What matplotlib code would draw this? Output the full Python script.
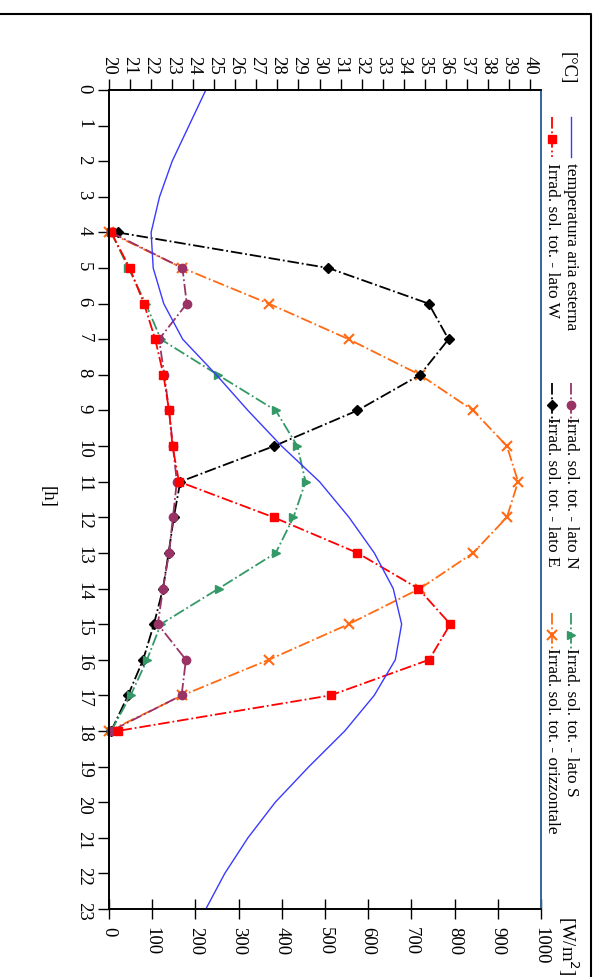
import matplotlib
matplotlib.use('Agg')
import matplotlib.pyplot as plt
from matplotlib.lines import Line2D

plt.rcParams['font.family'] = ['Liberation Serif', 'DejaVu Serif']

# ore del giorno
hours = list(range(24))
# temperatura aria esterna [°C]
temp = [24.6, 23.8, 23.0, 22.4, 22.0, 22.1, 22.6, 23.5, 25.1, 26.6, 28.2, 30.0,
        31.4, 32.6, 33.5, 33.9, 33.6, 32.6, 31.2, 29.5, 27.9, 26.6, 25.5, 24.6]

# irradiazione solare totale [W/m2], ore 4..18
sun_hours = list(range(4, 19))
irr_N = [5, 170, 180, 116, 128, 139, 148, 157, 148, 139, 125, 113, 178, 168, 5]
irr_E = [20, 508, 740, 786, 720, 575, 382, 165, 150, 138, 125, 104, 79, 44, 5]
irr_S = [5, 45, 85, 120, 252, 386, 436, 455, 427, 386, 254, 120, 88, 50, 5]
irr_W = [5, 48, 81, 107, 126, 139, 147, 162, 381, 575, 716, 790, 741, 513, 20]
irr_O = [0, 170, 370, 555, 720, 843, 921, 947, 921, 843, 720, 555, 370, 170, 0]

temp_ticks = list(range(20, 41))
irr_ticks = list(range(0, 1001, 100))

W, H = 594, 977
fig = plt.figure(figsize=(W / 100, H / 100), dpi=100)


def fx(x):
    return x / W


def fy(y):
    return 1 - y / H


ax = fig.add_axes([fx(109), fy(909), (541 - 109) / W, (909 - 90) / H])
ax2 = ax.twiny()

styles = {
    'N': dict(color='#993366', marker='o', ms=6),
    'E': dict(color='black', marker='D', ms=5),
    'S': dict(color='#339966', marker='>', ms=6),
    'W': dict(color='#ff0000', marker='s', ms=6),
    'O': dict(color='#ff6a13', marker='x', ms=7, mew=1.5),
}
series = {'N': irr_N, 'E': irr_E, 'S': irr_S, 'W': irr_W, 'O': irr_O}
for key in ['O', 'E', 'S', 'N', 'W']:
    st = styles[key]
    ax.plot(series[key], sun_hours, linestyle='-.', lw=1.3, clip_on=False, **st)

ax2.plot(temp, hours, color='#3a3aff', lw=1.0)

ax.set_xlim(0, 1000)
ax.set_ylim(23, 0)
ax2.set_xlim(20, 40.52)
ax2.set_ylim(23, 0)

ax.set_yticks(hours)
ax.set_yticklabels([str(h) for h in hours], rotation=-90, fontsize=13.5)
ax.set_xticks(irr_ticks)
ax.set_xticklabels([str(v) for v in irr_ticks], rotation=-90, fontsize=13.5)
ax2.set_xticks(temp_ticks)
ax2.set_xticklabels([str(v) for v in temp_ticks], rotation=-90, fontsize=13.5)

ax.tick_params(axis='y', direction='out', length=8, width=1, pad=4)
ax.tick_params(axis='x', direction='inout', length=14, width=1, pad=6)
ax2.tick_params(axis='x', direction='out', length=8, width=1, pad=3)
for a in (ax, ax2):
    for s in a.spines.values():
        s.set_linewidth(1.2)
    a.spines['right'].set_color('#336699')

# etichette assi
fig.text(fx(567), fy(68), '[°C]', rotation=-90, ha='center', va='center', fontsize=13.5)
fig.text(fx(568), fy(946), '[W/m$^2$]', rotation=-90, ha='center', va='center', fontsize=13.5)
fig.text(fx(47), fy(497), '[h]', rotation=-90, ha='center', va='center', fontsize=13.5)

# legenda (ruotata)
legend_items = [
    (571, 117, 163, dict(color='#3a3aff', lw=1.0, linestyle='-'), None, 'temperatura aria esterna'),
    (552, 117, 163, dict(color='#ff0000', lw=1.3, linestyle='-.'), 'W', 'Irrad. sol. tot. - lato W'),
    (571, 383, 417, dict(color='#993366', lw=1.3, linestyle='-.'), 'N', 'Irrad. sol. tot. - lato N'),
    (552, 383, 417, dict(color='black', lw=1.3, linestyle='-.'), 'E', 'Irrad. sol. tot. - lato E'),
    (571, 613, 648, dict(color='#339966', lw=1.3, linestyle='-.'), 'S', 'Irrad. sol. tot. - lato S'),
    (552, 613, 648, dict(color='#ff6a13', lw=1.3, linestyle='-.'), 'O', 'Irrad. sol. tot. - orizzontale'),
]
for x, y0, yt, lst, key, label in legend_items:
    fig.add_artist(Line2D([fx(x), fx(x)], [fy(y0), fy(y0 + 40)], transform=fig.transFigure, **lst))
    if key is not None:
        st = styles[key]
        fig.add_artist(Line2D([fx(x)], [fy(y0 + 22)], transform=fig.transFigure,
                              linestyle='none', **st))
    fig.text(fx(x), fy(yt), label, rotation=-90, ha='center', va='top', fontsize=12.5)

# cornice esterna
fig.add_artist(Line2D([0, fx(591), fx(591)], [fy(14), fy(14), 0],
                      transform=fig.transFigure, color='black', lw=1.5))

fig.savefig('out.png', dpi=100)
